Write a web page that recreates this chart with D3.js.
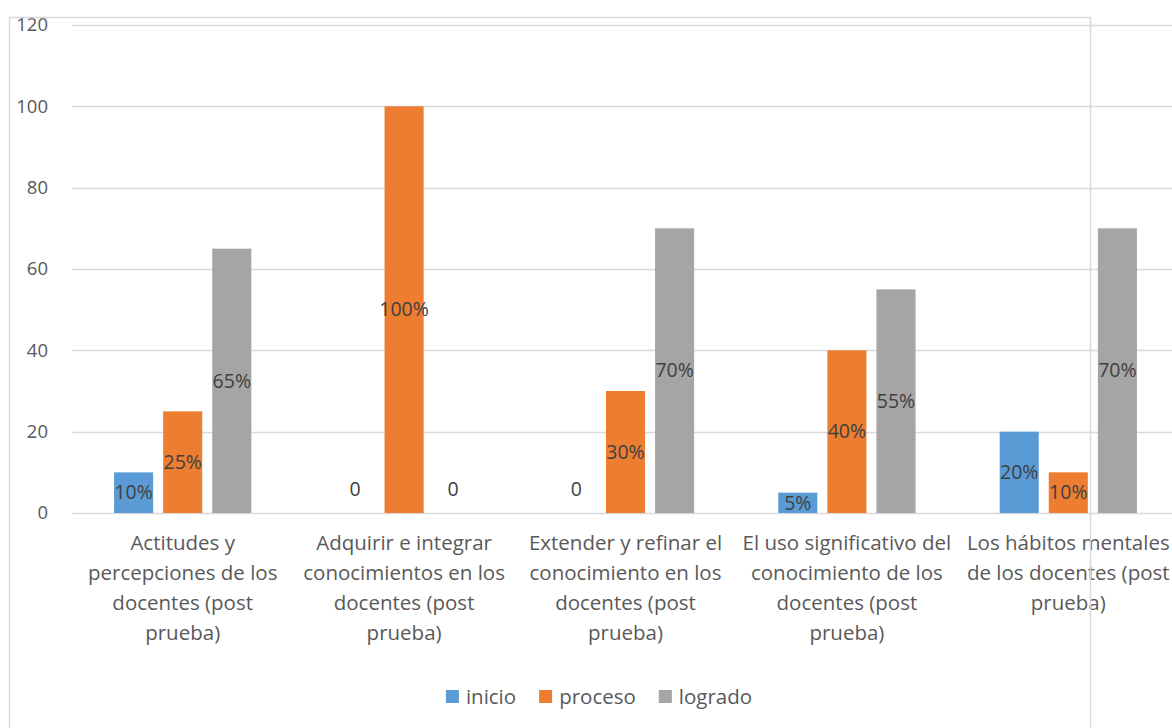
<!DOCTYPE html>
<html>
<head>
<meta charset="utf-8">
<script src="https://cdn.jsdelivr.net/npm/d3@7"></script>
<style>
  body { margin: 0; background: #fff; }
  svg { display: block; font-family: "Open Sans", "Noto Sans", sans-serif; }
</style>
</head>
<body>
<svg id="chart"></svg>
<script>
// data
const categories = [
  "Actitudes y\npercepciones de los\ndocentes (post\nprueba)",
  "Adquirir e integrar\nconocimientos en los\ndocentes (post\nprueba)",
  "Extender y refinar el\nconocimiento en los\ndocentes (post\nprueba)",
  "El uso significativo del\nconocimiento de los\ndocentes (post\nprueba)",
  "Los hábitos mentales\nde los docentes (post\nprueba)"
];
const seriesNames = ["inicio", "proceso", "logrado"];
const inicio = [10, 0, 0, 5, 20];
const proceso = [25, 100, 30, 40, 10];
const logrado = [65, 0, 70, 55, 70];
const yTicks = [0, 20, 40, 60, 80, 100, 120];

const colors = ["#5b9bd5", "#ed7d31", "#a5a5a5"];
const values = [inicio, proceso, logrado];

const width = 1172, height = 728;
// the plot runs a little past the right edge of the picture
const plot = {left: 72, right: 1179, top: 25, bottom: 513};
const numSize = "18.5px";
const textSize = "20.5px";

const svg = d3.select("#chart")
    .attr("width", width)
    .attr("height", height);

// scales
const x0 = d3.scaleBand()
    .domain(categories)
    .range([plot.left, plot.right])
    .paddingInner(0.38)
    .paddingOuter(0.19);

const x1 = d3.scaleBand()
    .domain(seriesNames)
    .range([0, x0.bandwidth()])
    .paddingInner(0.204);

const y = d3.scaleLinear()
    .domain([0, 120])
    .range([plot.bottom, plot.top]);

// gridlines
svg.append("g")
    .selectAll("line")
    .data(yTicks)
    .join("line")
    .attr("x1", plot.left)
    .attr("x2", plot.right)
    .attr("y1", d => Math.round(y(d)) + 0.5)
    .attr("y2", d => Math.round(y(d)) + 0.5)
    .attr("stroke", "#d9d9d9")
    .attr("stroke-width", 1.5);

// y tick labels
svg.append("g")
    .selectAll("text")
    .data(yTicks)
    .join("text")
    .attr("x", 48)
    .attr("y", d => y(d))
    .attr("dy", "0.35em")
    .attr("text-anchor", "end")
    .attr("fill", "#595959")
    .style("font-size", numSize)
    .text(d => d);

// bars
const rows = [];
categories.forEach((c, i) => {
    seriesNames.forEach((s, j) => {
        rows.push({cat: c, series: s, value: values[j][i], color: colors[j]});
    });
});

svg.append("g")
    .selectAll("rect")
    .data(rows)
    .join("rect")
    .attr("x", d => x0(d.cat) + x1(d.series))
    .attr("y", d => y(d.value))
    .attr("width", x1.bandwidth())
    .attr("height", d => y(0) - y(d.value))
    .attr("fill", d => d.color);

// data labels, centred in the bar
svg.append("g")
    .selectAll("text")
    .data(rows)
    .join("text")
    .attr("x", d => x0(d.cat) + x1(d.series) + x1.bandwidth() / 2)
    .attr("y", d => d.value === 0 ? y(0) - 24 : y(d.value / 2))
    .attr("dy", "0.35em")
    .attr("text-anchor", "middle")
    .attr("fill", "#404040")
    .style("font-size", "19.5px")
    .text(d => d.value === 0 ? "0" : d.value + "%");

// category labels
const catLabels = svg.append("g")
    .selectAll("text")
    .data(categories)
    .join("text")
    .attr("x", d => x0(d) + x0.bandwidth() / 2)
    .attr("y", 543)
    .attr("text-anchor", "middle")
    .attr("fill", "#595959")
    .style("font-size", textSize);

catLabels.selectAll("tspan")
    .data(d => d.split("\n"))
    .join("tspan")
    .attr("x", function() { return d3.select(this.parentNode).attr("x"); })
    .attr("y", (d, i) => 543 + i * 30)
    .attr("dy", "0.35em")
    .text(d => d);

// legend
const legend = svg.append("g");
const items = legend.selectAll("g")
    .data(seriesNames)
    .join("g");

items.append("rect")
    .attr("width", 13)
    .attr("height", 13)
    .attr("y", 690)
    .attr("fill", (d, i) => colors[i]);

items.append("text")
    .attr("x", 20)
    .attr("y", 697)
    .attr("dy", "0.35em")
    .attr("fill", "#595959")
    .style("font-size", textSize)
    .text(d => d);

let offset = 0;
const offsets = [];
items.each(function() {
    offsets.push(offset);
    const w = d3.select(this).select("text").node().getComputedTextLength();
    offset += 20 + w + 23;
});
const total = offset - 23;
const legendStart = 599 - total / 2;
items.attr("transform", (d, i) => `translate(${legendStart + offsets[i]},0)`);

// chart border (the right edge falls inside the plot)
svg.append("rect")
    .attr("x", 9.5)
    .attr("y", 17.5)
    .attr("width", 1081)
    .attr("height", 740)
    .attr("fill", "none")
    .attr("stroke", "#d9d9d9")
    .attr("stroke-width", 1.5);
</script>
</body>
</html>
